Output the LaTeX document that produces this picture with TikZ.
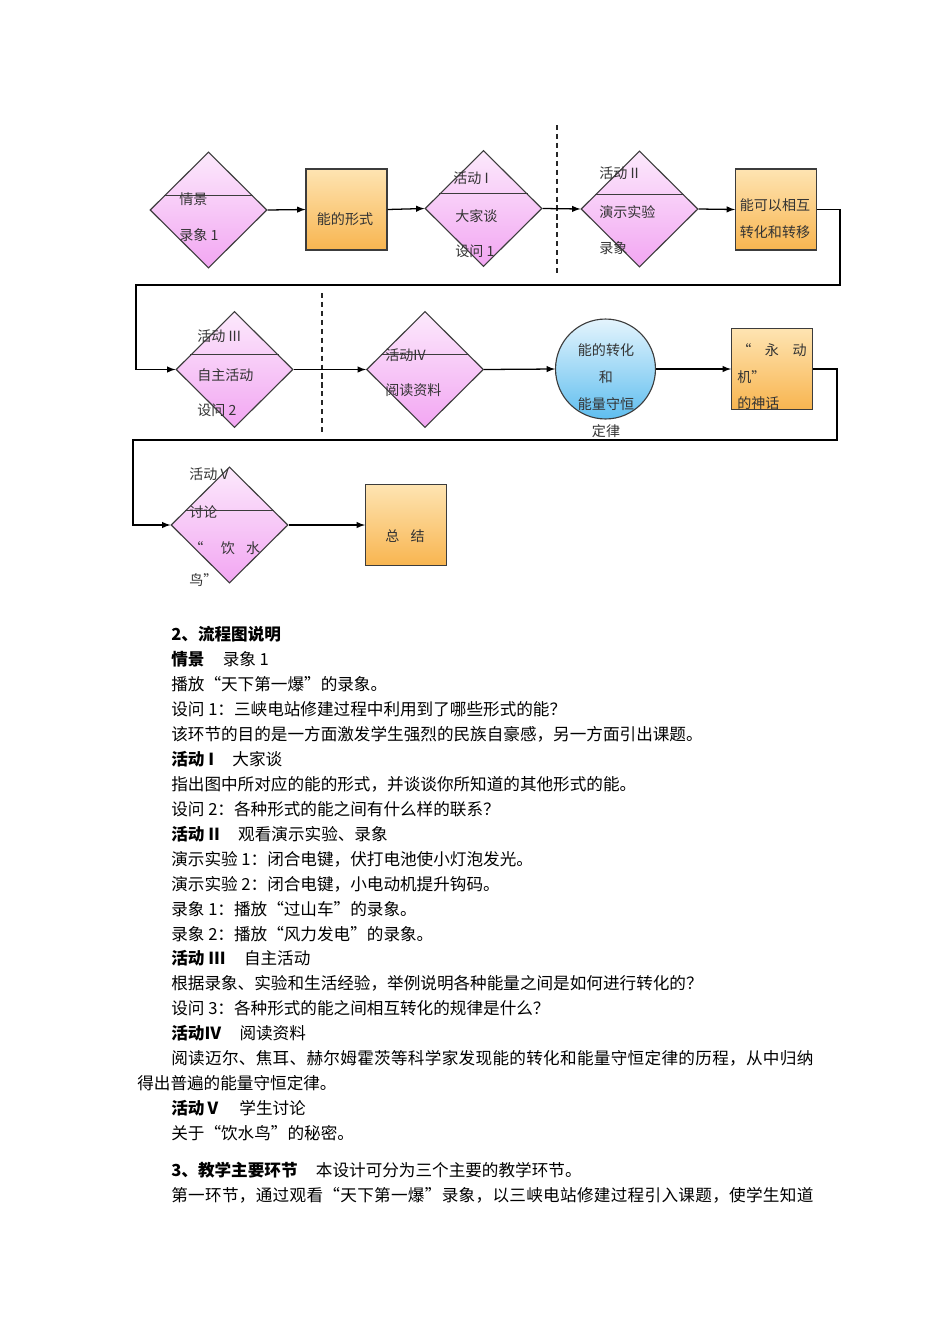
\documentclass[tikz,border=0pt]{standalone}
\usepackage{fontspec}
\setmainfont{Noto Sans CJK SC}
\newfontfamily\widefont[LetterSpace=1.8]{Noto Sans CJK SC}
\usepackage{tikz}
\usetikzlibrary{arrows,shapes,calc}
\definecolor{pinktop}{HTML}{FCE9FC}
\definecolor{pinkbot}{HTML}{F2A6F2}
\definecolor{orangetop}{HTML}{FEE4B2}
\definecolor{orangebot}{HTML}{F8B550}
\definecolor{bluetop}{HTML}{E4F4FD}
\definecolor{bluebot}{HTML}{5FBEEF}
\definecolor{edge}{HTML}{3C3C3C}

\begin{document}
\begin{tikzpicture}[x=0.6263pt, y=-0.6263pt, >=latex,
  dia/.style = {shape=diamond, draw=edge, line width=0.7pt, inner sep=0pt,
    minimum width=73.3pt, minimum height=72.7pt,
    top color=pinktop, bottom color=pinkbot},
  box/.style = {shape=rectangle, draw=edge, line width=0.7pt, inner sep=0pt,
    minimum size=50.7pt, top color=orangetop, bottom color=orangebot},
  ball/.style = {shape=circle, draw=edge, line width=0.7pt, inner sep=0pt,
    minimum size=62.6pt, top color=bluetop, bottom color=bluebot},
  lbl/.style = {anchor=west, inner sep=0pt, text=black!80,
    font=\fontsize{8.8}{10}\selectfont},
  txt/.style = {anchor=west, inner sep=0pt, font=\fontsize{10.4}{12}\selectfont},
  link/.style = {->, draw=black, line width=0.8pt},
  sep/.style = {draw=black!85, line width=0.9pt, dash pattern=on 3.2pt off 2.4pt}]

  \fill[white] (0,0) rectangle (950,1344);
  \useasboundingbox (0,0) rectangle (950,1344);

  % first row
  \node[dia] (d1) at (208.5,210) {};
  \node[box] (b1) at (346.5,209.5) {};
  \node[dia] (d2) at (483.5,208.5) {};
  \node[dia] (d3) at (639.5,209) {};
  \node[box] (b2) at (776,209.5) {};
  % second row
  \node[dia] (d4) at (234.5,369.5) {};
  \node[dia] (d5) at (425,369.5) {};
  \node[ball] (c) at (605.5,369) {};
  \node[box] (b3) at (772,369) {};
  % third row
  \node[dia] (d6) at (229.5,525) {};
  \node[box] (b4) at (406,525) {};

  % lines across the diamonds
  \foreach \d in {d1,d2,d3,d4,d5,d6}
    \draw[edge, line width=0.7pt] ($(\d.west)!0.25!(\d.north)$) -- ($(\d.east)!0.25!(\d.north)$);

  % dividers
  \draw[sep] (557,125) -- (557,275);
  \draw[sep] (322,293) -- (322,435);

  % labels
  \node[lbl] (d1a) at (179,199) {情景};
  \node[lbl] (d1b) at (179,235) {录象 1};
  \node[lbl, anchor=center] (b1a) at (345,219) {能的形式};
  \node[lbl] (d2a) at (453,178) {活动 I};
  \node[lbl] (d2b) at (455,216) {大家谈};
  \node[lbl] (d2c) at (455,251) {设问 1};
  \node[lbl] (d3a) at (599,173) {活动 II};
  \node[lbl] (d3b) at (599,212) {演示实验};
  \node[lbl] (d3c) at (599,248) {录象};
  \node[lbl, anchor=center, align=center, font=\fontsize{8.8}{16.9}\selectfont]
    (b2a) at (775,218.5) {能可以相互\\转化和转移};
  \node[lbl] (d4a) at (197,336) {活动 III};
  \node[lbl] (d4b) at (197,375) {自主活动};
  \node[lbl] (d4c) at (197,410) {设问 2};
  \node[lbl] (d5a) at (385,355) {活动IV};
  \node[lbl] (d5b) at (385,390) {阅读资料};
  \node[lbl, anchor=center, align=center, font=\fontsize{8.8}{16.9}\selectfont]
    (ca) at (606,390.5) {能的转化\\和\\能量守恒\\定律};
  \node[lbl, align=left, font=\fontsize{8.8}{16.6}\selectfont]
    (b3a) at (737,376.7) {“\hspace{8.5pt}永\hspace{8.5pt}动\\机”\\的神话};
  \node[lbl] (d6a) at (189,474) {活动 V};
  \node[lbl] (d6b) at (189,512) {讨论};
  \node[lbl] (d6c) at (189,548) {“\hspace{11pt}饮\hspace{7pt}水};
  \node[lbl] (d6d) at (189,580) {鸟”};
  \node[lbl, anchor=center] (b4a) at (405,536) {总\hspace{7pt}结};

  % connectors
  \coordinate (r1) at (840,285);
  \coordinate (l1) at (136,285);
  \coordinate (r2) at (837,440);
  \coordinate (l2) at (133,440);
  \draw[link] (d1.east) -- (b1.west);
  \draw[link] (b1.east) -- (d2.west);
  \draw[link] (d2.east) -- (d3.west);
  \draw[link] (d3.east) -- (b2.west);
  \draw[link] (b2.east) -| (r1) -- (l1) |- (d4.west);
  \draw[link] (d4.east) -- (d5.west);
  \draw[link] (d5.east) -- (c.west);
  \draw[link] (c.east) -- (b3.west);
  \draw[link] (b3.east) -| (r2) -- (l2) |- (d6.west);
  \draw[link] (d6.east) -- (b4.west);

  % notes below the chart
  \foreach \y/\s [count=\n] in {
    634/{\textbf{2、流程图说明}},
    659/{\textbf{情景}\hspace{1.1em}录象 1},
    684/{播放“天下第一爆”的录象。},
    709/{设问 1：三峡电站修建过程中利用到了哪些形式的能？},
    734/{该环节的目的是一方面激发学生强烈的民族自豪感，另一方面引出课题。},
    759/{\textbf{活动 I}\hspace{1.1em}大家谈},
    784/{指出图中所对应的能的形式，并谈谈你所知道的其他形式的能。},
    809/{设问 2：各种形式的能之间有什么样的联系？},
    834/{\textbf{活动 II}\hspace{1.1em}观看演示实验、录象},
    859/{演示实验 1：闭合电键，伏打电池使小灯泡发光。},
    884/{演示实验 2：闭合电键，小电动机提升钩码。},
    909/{录象 1：播放“过山车”的录象。},
    934/{录象 2：播放“风力发电”的录象。},
    958/{\textbf{活动 III}\hspace{1.1em}自主活动},
    983/{根据录象、实验和生活经验，举例说明各种能量之间是如何进行转化的？},
    1008/{设问 3：各种形式的能之间相互转化的规律是什么？},
    1033/{\textbf{活动Ⅳ}\hspace{1.1em}阅读资料},
    1058/{\widefont 阅读迈尔、焦耳、赫尔姆霍茨等科学家发现能的转化和能量守恒定律的历程，从中归纳},
    1108/{\textbf{活动Ⅴ}\hspace{1.1em}学生讨论},
    1133/{关于“饮水鸟”的秘密。},
    1170/{\textbf{3、教学主要环节}\hspace{1.1em}本设计可分为三个主要的教学环节。},
    1195/{\widefont 第一环节，通过观看“天下第一爆”录象，以三峡电站修建过程引入课题，使学生知道}}
    \node[txt] (line\n) at (171,\y) {\s};
  \node[txt] (wrap) at (137,1083) {得出普遍的能量守恒定律。};
\end{tikzpicture}
\end{document}
